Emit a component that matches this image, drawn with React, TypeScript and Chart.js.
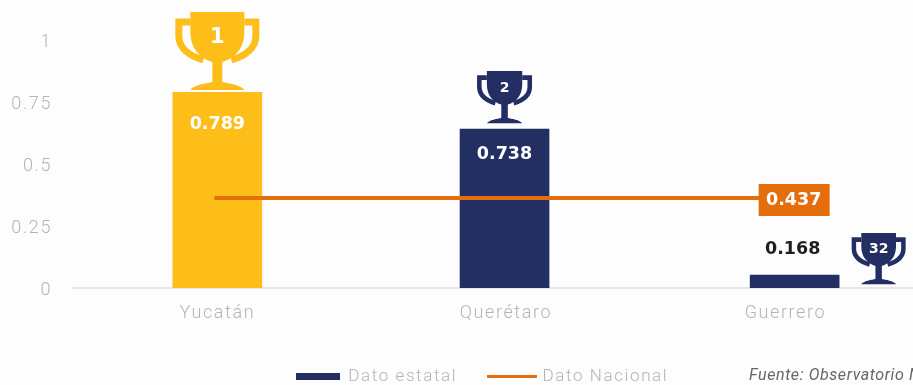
import React, { useEffect, useRef } from "react";
import { Chart, registerables } from "chart.js";

Chart.register(...registerables);

const categories = ["Yucatán", "Querétaro", "Guerrero"];
const categoryPositions = [0, 1, 1.968];
const barPositions = [0, 0.995, 2];
const stateHeights = [0.789, 0.641, 0.052];
const stateLabels = ["0.789", "0.738", "0.168"];
const nationalPositions = [-0.01, 2];
const nationalHeight = 0.363;
const nationalLabel = "0.437";
const ranks = ["1", "2", "32"];
const yTicks = [0, 0.25, 0.5, 0.75, 1];
const sourceText = "Fuente: Observatorio Nacional";

const NAVY = "#232f62";
const GOLD = "#fdbe1a";
const ORANGE = "#e66d0c";
const GREY = "#b4b4b4";

function drawTrophy(ctx: CanvasRenderingContext2D, cx: number, top: number, w: number, h: number, color: string, rank: string) {
  ctx.save();
  ctx.translate(cx, top);
  ctx.scale(w / 84, h / 79);
  ctx.fillStyle = color;
  ctx.strokeStyle = color;
  ctx.beginPath();
  ctx.moveTo(-27, 0);
  ctx.lineTo(27, 0);
  ctx.lineTo(27, 20);
  ctx.bezierCurveTo(27, 36, 18, 46, 5, 50);
  ctx.lineTo(5, 70);
  ctx.bezierCurveTo(10, 71, 24, 73, 27, 78);
  ctx.lineTo(-27, 78);
  ctx.bezierCurveTo(-24, 73, -10, 71, -5, 70);
  ctx.lineTo(-5, 50);
  ctx.bezierCurveTo(-18, 46, -27, 36, -27, 20);
  ctx.closePath();
  ctx.fill();
  ctx.lineWidth = 7;
  for (const side of [-1, 1]) {
    ctx.beginPath();
    ctx.moveTo(side * 27, 10);
    ctx.lineTo(side * 38.5, 10);
    ctx.lineTo(side * 38.5, 24);
    ctx.bezierCurveTo(side * 38.5, 36, side * 28, 44, side * 14, 48);
    ctx.stroke();
  }
  ctx.restore();
  ctx.save();
  ctx.fillStyle = "#ffffff";
  ctx.textAlign = "center";
  ctx.textBaseline = "middle";
  ctx.font = `bold ${Math.round(h * 0.27)}px "DejaVu Sans"`;
  ctx.fillText(rank, cx, top + h * 0.32);
  ctx.restore();
}

function legendSwatch(w: number, h: number, color: string) {
  const c = document.createElement("canvas");
  c.width = w;
  c.height = h;
  const g = c.getContext("2d")!;
  g.fillStyle = color;
  g.fillRect(0, 0, w, h);
  return c;
}

const spacingPlugin = {
  id: "spacing",
  beforeUpdate(chart: any) {
    chart.ctx.letterSpacing = "1.6px";
  },
  afterLayout(chart: any) {
    chart.legend.left -= 11;
    chart.legend.right -= 11;
    chart.legend.top += 1;
    chart.legend.bottom += 1;
  },
};

const annotations = {
  id: "annotations",
  afterDatasetsDraw(chart: any) {
    const { ctx, scales } = chart;
    const x = scales.x;
    const y = scales.y;
    ctx.save();
    ctx.letterSpacing = "0px";
    drawTrophy(ctx, x.getPixelForValue(barPositions[0]), 12, 84, 79, GOLD, ranks[0]);
    drawTrophy(ctx, x.getPixelForValue(barPositions[1]), 71, 55, 53, NAVY, ranks[1]);
    drawTrophy(ctx, x.getPixelForValue(barPositions[2]) + 84, 233, 54, 52, NAVY, ranks[2]);

    ctx.font = 'bold 17.5px "DejaVu Sans"';
    ctx.textAlign = "center";
    ctx.textBaseline = "middle";
    ctx.fillStyle = "#ffffff";
    ctx.fillText(stateLabels[0], x.getPixelForValue(barPositions[0]), y.getPixelForValue(stateHeights[0]) + 32);
    ctx.fillText(stateLabels[1], x.getPixelForValue(barPositions[1]), y.getPixelForValue(stateHeights[1]) + 25);
    ctx.fillStyle = "#1f1f1f";
    ctx.fillText(stateLabels[2], x.getPixelForValue(barPositions[2]) - 2, y.getPixelForValue(stateHeights[2]) - 26);

    const lineY = y.getPixelForValue(nationalHeight);
    const boxX = x.getPixelForValue(barPositions[2]) - 36;
    ctx.fillStyle = ORANGE;
    ctx.fillRect(boxX, lineY - 14, 71, 32);
    ctx.fillStyle = "#ffffff";
    ctx.fillText(nationalLabel, boxX + 35, lineY + 2);

    ctx.font = "italic 16px Roboto";
    ctx.textAlign = "left";
    ctx.fillStyle = "#666666";
    ctx.letterSpacing = "0.6px";
    ctx.fillText(sourceText, 749, 376);
    ctx.restore();
  },
};

export default function App() {
  const ref = useRef<HTMLCanvasElement>(null);

  useEffect(() => {
    const chart = new Chart(ref.current!, {
      data: {
        datasets: [
          {
            type: "bar",
            label: "Dato estatal",
            data: barPositions.map((p, i) => ({ x: p, y: stateHeights[i] })),
            backgroundColor: [GOLD, NAVY, NAVY],
            barThickness: 89,
            order: 2,
          },
          {
            type: "line",
            label: "Dato Nacional",
            data: nationalPositions.map((p) => ({ x: p, y: nationalHeight })),
            borderColor: ORANGE,
            borderWidth: 4,
            pointRadius: 0,
            order: 1,
          },
        ],
      },
      options: {
        animation: false,
        responsive: false,
        layout: { padding: { top: 40 } },
        scales: {
          x: {
            type: "linear",
            offset: false,
            min: -0.5,
            max: 2.41,
            grid: { display: false },
            border: { color: "#e6e6e6", width: 2 },
            afterBuildTicks(axis: any) {
              axis.ticks = categoryPositions.map((value) => ({ value }));
            },
            afterFit(axis: any) {
              axis.height = 46;
            },
            ticks: {
              autoSkip: false,
              maxRotation: 0,
              padding: 7,
              color: GREY,
              font: { family: "Roboto", size: 18, weight: "300" },
              callback: (_v: any, i: number) => categories[i],
            },
          },
          y: {
            min: 0,
            max: 1,
            grid: { display: false },
            border: { display: false },
            afterBuildTicks(axis: any) {
              axis.ticks = yTicks.map((value) => ({ value }));
            },
            afterFit(axis: any) {
              axis.width = 73;
            },
            ticks: {
              padding: 13,
              labelOffset: 2,
              color: GREY,
              font: { family: "Roboto", size: 18, weight: "300" },
              callback: (v: any) => String(v),
            },
          },
        },
        plugins: {
          tooltip: { enabled: false },
          legend: {
            position: "bottom",
            fullSize: false,
            labels: {
              usePointStyle: true,
              pointStyleWidth: 44,
              padding: 33,
              color: GREY,
              font: { family: "Roboto", size: 17, weight: "300" },
              generateLabels: () => [
                { text: "Dato estatal", pointStyle: legendSwatch(44, 7, NAVY), fontColor: GREY, datasetIndex: 0 },
                { text: "Dato Nacional", pointStyle: legendSwatch(50, 3, ORANGE), fontColor: GREY, datasetIndex: 1 },
              ],
            },
          },
        },
      } as any,
      plugins: [spacingPlugin, annotations],
    } as any);
    return () => chart.destroy();
  }, []);

  return (
    <div style={{ position: "absolute", left: 0, top: 0, width: 913, height: 385, overflow: "hidden", background: "#fdfdfd" }}>
      <canvas ref={ref} width={913} height={394} style={{ display: "block", filter: "blur(0.4px)" }} />
    </div>
  );
}
